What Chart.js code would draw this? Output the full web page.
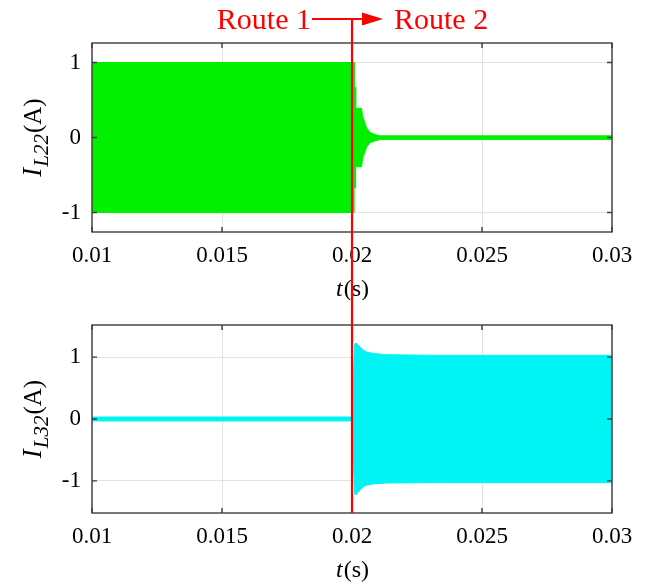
<!DOCTYPE html>
<html>
<head>
<meta charset="utf-8">
<script src="https://cdn.jsdelivr.net/npm/chart.js@4.4.0/dist/chart.umd.min.js"></script>
<style>
  html, body { margin: 0; padding: 0; background: #fff; }
  #wrap { width: 660px; height: 586px; position: relative; }
  canvas { display: block; }
</style>
</head>
<body>
<div id="wrap">
  <canvas id="chartTop" width="660" height="300"></canvas>
  <canvas id="chartBottom" width="660" height="286"></canvas>
</div>
<script>
// axis ticks
const xTickValues = [0.01, 0.015, 0.02, 0.025, 0.03];
const xTickLabels = ['0.01', '0.015', '0.02', '0.025', '0.03'];
const yTickValues = [-1, 0, 1];
const yTickLabels = ['-1', '0', '1'];
const switchTime = 0.02;
const routeLabels = ['Route 1', 'Route 2'];

// I_L22 envelope of the oscillation
const tL22 = [0.01, 0.02008, 0.02008, 0.02014, 0.02014, 0.02037, 0.0204, 0.02044, 0.02056, 0.02069, 0.02088, 0.02108, 0.03];
const upperL22 = [1.0, 1.0, 0.67, 0.67, 0.39, 0.39, 0.3, 0.25, 0.13, 0.07, 0.04, 0.022, 0.022];
const lowerL22 = [-1.0, -1.0, -0.67, -0.67, -0.39, -0.39, -0.3, -0.25, -0.13, -0.07, -0.045, -0.025, -0.025];

// I_L32 envelope
const tL32 = [0.01, 0.02, 0.0201, 0.02015, 0.0203, 0.02044, 0.02056, 0.02082, 0.02133, 0.0231, 0.03];
const upperL32 = [0.032, 0.032, 1.2, 1.23, 1.17, 1.11, 1.085, 1.06, 1.04, 1.03, 1.03];
const lowerL32 = [-0.032, -0.032, -1.2, -1.23, -1.15, -1.09, -1.07, -1.05, -1.035, -1.03, -1.03];

const serif = '"Liberation Serif", "Times New Roman", serif';

const toPoints = (ts, ys) => ts.map((t, i) => ({ x: t, y: ys[i] }));

// box + inward tick marks
const framePlugin = {
  id: 'frame',
  afterDatasetsDraw(chart) {
    const { ctx, chartArea: a, scales } = chart;
    ctx.save();
    ctx.strokeStyle = '#3c3c3c';
    ctx.lineWidth = 1.4;
    ctx.strokeRect(a.left, a.top, a.right - a.left, a.bottom - a.top);
    ctx.beginPath();
    xTickValues.forEach(v => {
      const px = scales.x.getPixelForValue(v);
      ctx.moveTo(px, a.bottom); ctx.lineTo(px, a.bottom - 5);
      ctx.moveTo(px, a.top); ctx.lineTo(px, a.top + 5);
    });
    yTickValues.forEach(v => {
      const py = scales.y.getPixelForValue(v);
      ctx.moveTo(a.left, py); ctx.lineTo(a.left + 5, py);
      ctx.moveTo(a.right, py); ctx.lineTo(a.right - 5, py);
    });
    ctx.stroke();
    ctx.restore();
  }
};

// axis titles with italic / subscript parts
const makeTitlePlugin = (sub) => ({
  id: 'titles',
  afterDraw(chart) {
    const { ctx, chartArea: a } = chart;
    ctx.save();
    ctx.fillStyle = '#000';
    ctx.textBaseline = 'alphabetic';
    ctx.textAlign = 'left';
    // x title: t(s)
    let fItal = 'italic 24px ' + serif;
    let fNorm = '24px ' + serif;
    ctx.font = fItal; const wt = ctx.measureText('t').width;
    ctx.font = fNorm; const ws = ctx.measureText('(s)').width;
    let x = (a.left + a.right) / 2 - (wt + ws) / 2;
    const yb = a.bottom + 64;
    ctx.font = fItal; ctx.fillText('t', x, yb);
    ctx.font = fNorm; ctx.fillText('(s)', x + wt + 1, yb);

    // y title: I_sub(A), rotated
    fItal = 'italic 27px ' + serif;
    fNorm = '25px ' + serif;
    const fSub = 'italic 21px ' + serif;
    ctx.font = fItal; const wI = ctx.measureText('I').width;
    ctx.font = fSub; const wS = ctx.measureText(sub).width;
    ctx.font = fNorm; const wA = ctx.measureText('(A)').width;
    const total = wI + wS + wA + 2;
    ctx.translate(41, (a.top + a.bottom) / 2);
    ctx.rotate(-Math.PI / 2);
    x = -total / 2;
    ctx.font = fItal; ctx.fillText('I', x, 0); x += wI + 1;
    ctx.font = fSub; ctx.fillText(sub, x, 7); x += wS + 1;
    ctx.font = fNorm; ctx.fillText('(A)', x, 0);
    ctx.restore();
  }
});

// red switching line with route annotation
const makeRoutePlugin = (isTop) => ({
  id: 'route',
  afterDraw(chart) {
    const { ctx, chartArea: a, scales } = chart;
    const x0 = scales.x.getPixelForValue(switchTime);
    ctx.save();
    ctx.strokeStyle = '#ff0000';
    ctx.fillStyle = '#ff0000';
    ctx.lineWidth = 2.2;
    ctx.beginPath();
    if (isTop) {
      const yArrow = 19;
      ctx.moveTo(x0, yArrow); ctx.lineTo(x0, chart.height);
      ctx.moveTo(x0 - 40, yArrow); ctx.lineTo(x0 + 12, yArrow);
      ctx.stroke();
      ctx.beginPath();
      ctx.moveTo(x0 + 31, yArrow);
      ctx.lineTo(x0 + 10, yArrow - 6.5);
      ctx.lineTo(x0 + 10, yArrow + 6.5);
      ctx.closePath();
      ctx.fill();
      ctx.font = '30px ' + serif;
      ctx.textBaseline = 'alphabetic';
      ctx.textAlign = 'right';
      ctx.fillText(routeLabels[0], x0 - 41, 29);
      ctx.textAlign = 'left';
      ctx.fillText(routeLabels[1], x0 + 42, 29);
    } else {
      ctx.moveTo(x0, 0); ctx.lineTo(x0, a.bottom);
      ctx.stroke();
    }
    ctx.restore();
  }
});

const makeChart = (id, ts, up, low, color, yLim, padTop, xHeight, sub, isTop) => new Chart(document.getElementById(id), {
  type: 'line',
  data: {
    datasets: [
      { data: toPoints(ts, up), borderColor: color, backgroundColor: color, borderWidth: 1, fill: '+1', pointRadius: 0, tension: 0 },
      { data: toPoints(ts, low), borderColor: color, backgroundColor: color, borderWidth: 1, fill: false, pointRadius: 0, tension: 0 }
    ]
  },
  options: {
    responsive: false,
    animation: false,
    events: [],
    layout: { padding: { left: 0, right: 48, top: padTop, bottom: 0 } },
    plugins: { legend: { display: false }, tooltip: { enabled: false } },
    scales: {
      x: {
        type: 'linear', min: 0.01, max: 0.03,
        afterBuildTicks: s => { s.ticks = xTickValues.map(v => ({ value: v })); },
        afterFit: s => { s.height = xHeight; },
        ticks: { callback: (v, i) => xTickLabels[i], color: '#000', padding: 10, maxRotation: 0, font: { family: serif, size: 23 } },
        grid: { color: '#e2e2e2', lineWidth: 1, drawTicks: false },
        border: { display: false }
      },
      y: {
        min: -yLim, max: yLim,
        afterBuildTicks: s => { s.ticks = yTickValues.map(v => ({ value: v })); },
        afterFit: s => { s.width = 92; },
        ticks: { callback: (v, i) => yTickLabels[i], color: '#000', padding: 11, font: { family: serif, size: 23 } },
        grid: { color: '#e2e2e2', lineWidth: 1, drawTicks: false },
        border: { display: false }
      }
    }
  },
  plugins: [framePlugin, makeTitlePlugin(sub), makeRoutePlugin(isTop)]
});

makeChart('chartTop', tL22, upperL22, lowerL22, '#00f000', 1.26, 43, 68, 'L22', true);
makeChart('chartBottom', tL32, upperL32, lowerL32, '#00f4f4', 1.52, 25, 73, 'L32', false);
</script>
</body>
</html>
